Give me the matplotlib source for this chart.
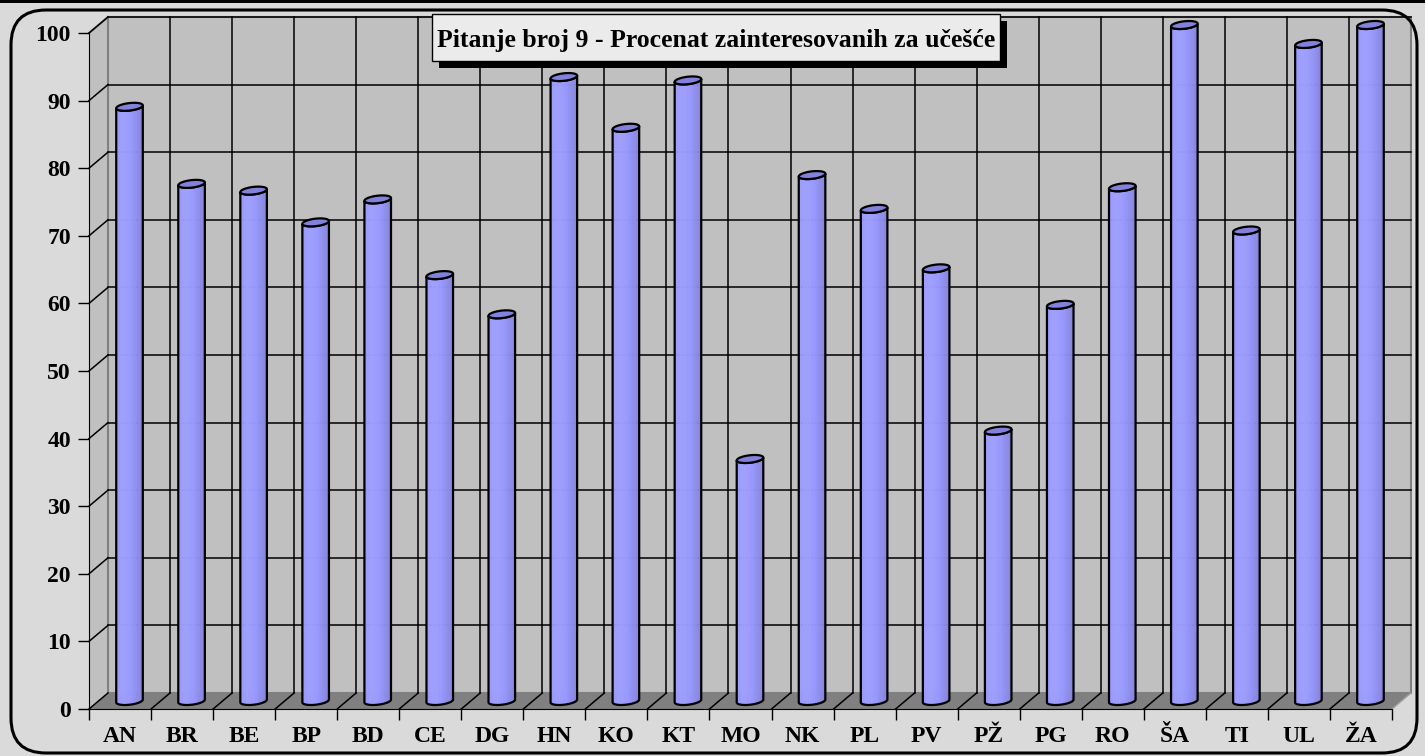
import numpy as np
import matplotlib.pyplot as plt
from matplotlib.patches import Polygon, Rectangle, FancyBboxPatch
from matplotlib.transforms import IdentityTransform

# Data
categories = ['AN', 'BR', 'BE', 'BP', 'BD', 'CE', 'DG', 'HN', 'KO', 'KT', 'MO',
              'NK', 'PL', 'PV', 'PŽ', 'PG', 'RO', 'ŠA', 'TI', 'UL', 'ŽA']
values = [87.9, 76.5, 75.5, 70.8, 74.2, 63.0, 57.2, 92.3, 84.8, 91.8, 35.8,
          77.8, 72.8, 64.0, 40.0, 58.6, 76.0, 100.0, 69.6, 97.2, 100.0]
y_ticks = [0, 10, 20, 30, 40, 50, 60, 70, 80, 90, 100]
title = 'Pitanje broj 9 - Procenat zainteresovanih za učešće'

plt.rcParams['font.family'] = ['Liberation Serif', 'DejaVu Serif']
plt.rcParams['font.weight'] = 'bold'

n = len(categories)
DX, DY = 0.306, 2.37      # depth offset of the back wall (data units)
wall = '#c0c0c0'

fig = plt.figure(figsize=(14.25, 7.56), dpi=100)
fig.patch.set_facecolor('#dadada')

# rounded frame and top line
fig.patches.append(FancyBboxPatch((11, 3), 1406, 743, boxstyle='round,pad=0,rounding_size=35',
                                  transform=IdentityTransform(), fc='none', ec='black', lw=2.2,
                                  figure=fig))
fig.patches.append(Rectangle((0, 753), 1425, 3, transform=IdentityTransform(),
                             fc='black', ec='none', figure=fig))

ax = fig.add_axes([89 / 1425, 47 / 756, 1322 / 1425, 692 / 756])
ax.set_xlim(0, n + DX)
ax.set_ylim(0, 100 + DY)
ax.patch.set_visible(False)

# walls and floor
ax.add_patch(Polygon([(0, 0), (0, 100), (DX, 100 + DY), (DX, DY)], closed=True,
                     fc=wall, ec='none', zorder=0.5, clip_on=False))
ax.add_patch(Rectangle((DX, DY), n, 100, fc=wall, ec='#808080', lw=1.5, zorder=0.6, clip_on=False))
ax.plot([0, DX], [100, 100 + DY], color='#808080', lw=1.5, zorder=0.7, clip_on=False)
ax.add_patch(Polygon([(0, 0), (n, 0), (n + DX, DY), (DX, DY)], closed=True,
                     fc='#808080', ec='none', zorder=0.8, clip_on=False))
ax.plot([n, n + DX], [0, DY], color='#a0a0a0', lw=1, zorder=0.9, clip_on=False)

# gridlines on back and side walls
for v in y_ticks[1:]:
    ax.plot([DX, n + DX], [v + DY, v + DY], color='black', lw=1.1, zorder=0.9, clip_on=False)
for v in y_ticks:
    ax.plot([0, DX], [v, v + DY], color='black', lw=1.1, zorder=0.9, clip_on=False)
for k in range(1, n):
    ax.plot([k + DX, k + DX], [DY, 100 + DY], color='black', lw=1.1, zorder=0.9, clip_on=False)
for k in range(1, n):
    ax.plot([k, k + DX], [0, DY], color='black', lw=1.1, zorder=0.9, clip_on=False)

# cylinders
a, b = 0.2, 0.25
t0 = np.arctan(b * DX / a)
base = np.array([0.6, 0.6, 1.0])


def ell(cx, cy, t):
    return np.column_stack([cx + a * np.cos(t) + b * np.sin(t) * DX, cy + b * np.sin(t) * DY])


for i, v in enumerate(values):
    cx = i + 0.5 + DX / 2
    by = DY / 2
    ty = v + DY / 2
    ts = np.linspace(t0 + np.pi, t0 + 2 * np.pi, 25)
    bot = ell(cx, by, ts)
    top = ell(cx, ty, ts)
    for j in range(len(ts) - 1):
        s = (j + 0.5) / (len(ts) - 1)
        f = 0.98 + 0.06 * np.exp(-((s - 0.35) / 0.2) ** 2) - 0.15 * max(0, s - 0.55) / 0.45
        col = np.clip(base * f, 0, 1)
        ax.add_patch(Polygon([bot[j], bot[j + 1], top[j + 1], top[j]], closed=True,
                             fc=col, ec=col, lw=0.4, zorder=2, clip_on=False))
    outline = np.vstack([bot, top[::-1]])
    ax.add_patch(Polygon(outline, closed=True, fc='none', ec='black', lw=1.6, zorder=3, clip_on=False))
    cap = ell(cx, ty, np.linspace(0, 2 * np.pi, 60))
    ax.add_patch(Polygon(cap, closed=True, fc='#8282dc', ec='black', lw=1.6, zorder=3, clip_on=False))

# axes
for side in ['top', 'right']:
    ax.spines[side].set_visible(False)
ax.spines['left'].set_bounds(0, 100)
ax.spines['bottom'].set_bounds(0, n)
ax.spines['left'].set_zorder(4)
ax.spines['bottom'].set_zorder(4)
ax.set_yticks(y_ticks)
ax.set_yticklabels([str(v) for v in y_ticks], fontsize=17, fontweight='bold')
ax.set_xticks(range(n + 1))
ax.set_xticklabels([''] * (n + 1))
ax.set_xticks([k + 0.5 for k in range(n)], minor=True)
ax.set_xticklabels(categories, minor=True, fontsize=17, fontweight='bold')
ax.tick_params(axis='both', which='major', direction='out', length=8, width=1, color='black')
ax.tick_params(axis='y', pad=5)
ax.tick_params(axis='x', which='minor', length=0, pad=12)

# title box with shadow
fig.patches.append(Rectangle((439, 756 - 68), 568, 47, transform=IdentityTransform(),
                             fc='black', ec='none', figure=fig))
fig.patches.append(Rectangle((432, 756 - 61), 568, 47, transform=IdentityTransform(),
                             fc='#ebebeb', ec='black', lw=1, figure=fig))
fig.text(716 / 1425, 1 - 40 / 756, title, ha='center', va='center', fontsize=18.5, fontweight='bold')

fig.savefig('out.png', dpi=100, facecolor=fig.get_facecolor())
